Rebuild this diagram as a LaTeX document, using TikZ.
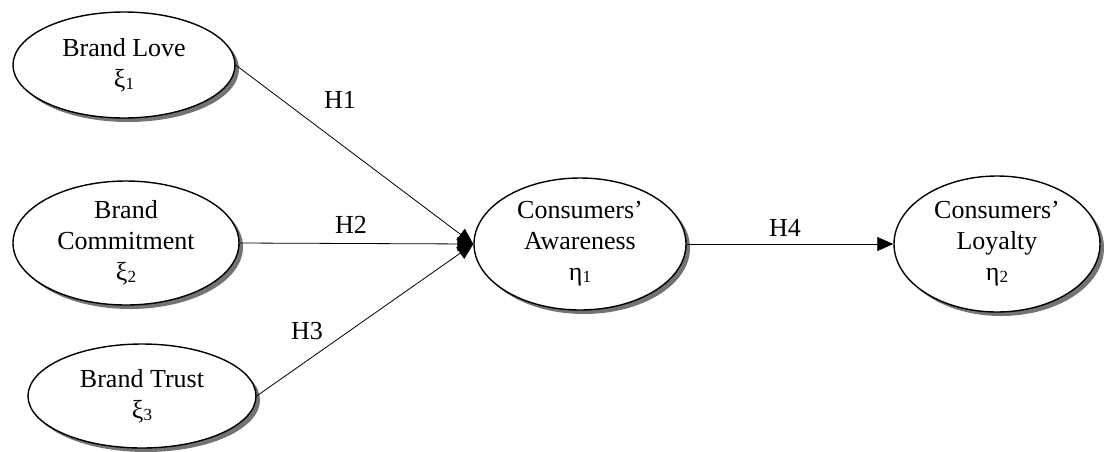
\documentclass[tikz,border=0pt]{standalone}
\usepackage{fontspec}
\setmainfont{Liberation Serif}
\usetikzlibrary{shapes.geometric,shadows,arrows.meta}
\newcommand{\gsub}[2]{#1{\fontsize{17}{17}\selectfont\raisebox{-2pt}{#2}}}
\begin{document}
\begin{tikzpicture}[x=1pt,y=-1pt,
        every node/.style={font=\fontsize{26}{31}\selectfont},
        construct/.style={ellipse,draw,line width=1.4pt,fill=white,align=center,inner sep=0pt,
            drop shadow={shadow xshift=4pt,shadow yshift=-4pt,fill=black!55,opacity=1}},
        link/.style={-{Triangle[length=16pt,width=14pt]},line width=0.8pt}]
            \useasboundingbox (0,0) rectangle (1111,451);

            \node[construct,minimum width=222pt,minimum height=106pt] (love) at (124,65) {Brand Love\\\gsub{ξ}{1}};
            \node[construct,minimum width=226pt,minimum height=124pt] (comm) at (126,243) {Brand\\Commitment\\\gsub{ξ}{2}};
            \node[construct,minimum width=228pt,minimum height=104pt] (trust) at (142,396) {Brand Trust\\\gsub{ξ}{3}};
            \node[construct,minimum width=212pt,minimum height=132pt] (aware) at (580,244) {Consumers’\\Awareness\\\gsub{η}{1}};
            \node[construct,minimum width=206pt,minimum height=136pt] (loyal) at (997,244) {Consumers’\\Loyalty\\\gsub{η}{2}};

            \draw[link] (love.east) -- (aware.west);
            \draw[link] (comm.east) -- (aware.west);
            \draw[link] (trust.east) -- (aware.west);
            \draw[link] (aware.east) -- (loyal.west);

            \node (h1) at (340,100) {H1};
            \node (h2) at (351,225) {H2};
            \node (h3) at (307,331) {H3};
            \node (h4) at (785,228) {H4};
        \end{tikzpicture}
\end{document}
